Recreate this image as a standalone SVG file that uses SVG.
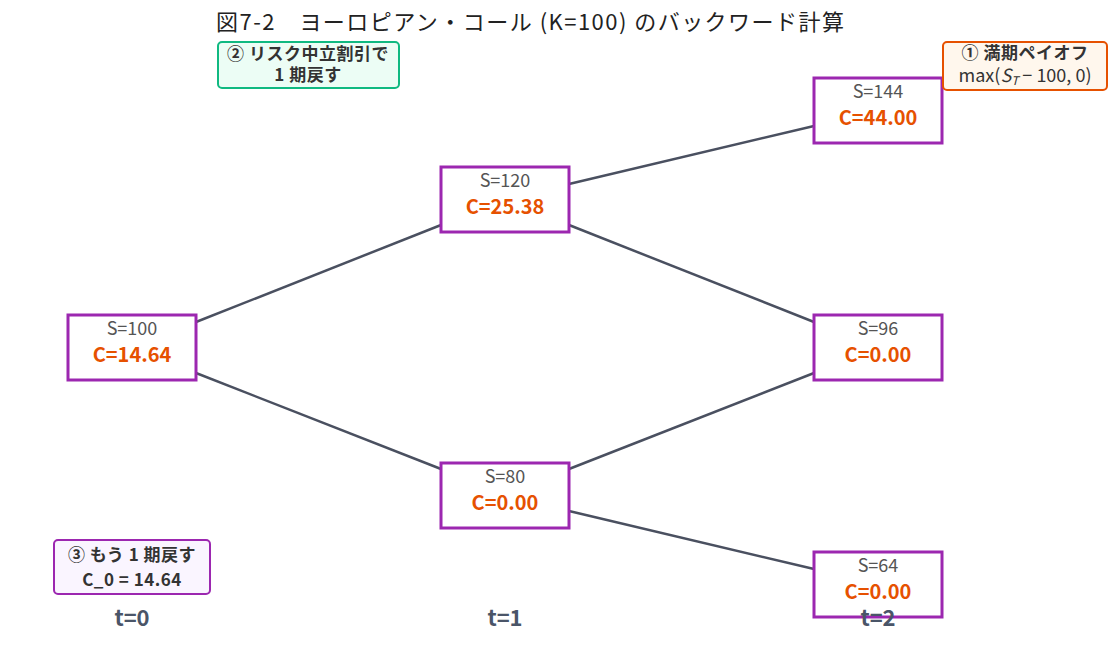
<svg xmlns="http://www.w3.org/2000/svg" width="1116" height="658" viewBox="0 0 1116 658">
<style>
text{font-family:"Noto Sans CJK JP","Noto Sans",sans-serif;text-anchor:middle}
.n{fill:#fff;stroke:#9c27b0;stroke-width:3}
.s{font-size:18px;fill:#555}
.c{font-size:20px;font-weight:bold;fill:#e65100}
.e{stroke:#4a5060;stroke-width:2.5;fill:none}
.t{font-size:22px;font-weight:bold;fill:#4a5568}
.a{font-size:17px;font-weight:bold;fill:#333;letter-spacing:0.5px}
</style>
<rect width="1116" height="658" fill="#fff"/>
<text x="530" y="30" font-size="22" fill="#222" textLength="628" lengthAdjust="spacing">図7-2　ヨーロピアン・コール (K=100) のバックワード計算</text>
<g id="edges">
<line class="e" x1="196" y1="322" x2="441" y2="225"/>
<line class="e" x1="196" y1="373" x2="441" y2="469"/>
<line class="e" x1="569" y1="184" x2="814" y2="126"/>
<line class="e" x1="569" y1="225" x2="814" y2="322"/>
<line class="e" x1="569" y1="469" x2="814" y2="373"/>
<line class="e" x1="569" y1="511" x2="814" y2="569"/>
</g>
<g id="n0"><rect class="n" x="68" y="315" width="128" height="65"/><text class="s" x="132" y="335">S=100</text><text class="c" x="132" y="362">C=14.64</text></g>
<g id="n1u"><rect class="n" x="441" y="167" width="128" height="65"/><text class="s" x="505" y="187">S=120</text><text class="c" x="505" y="214">C=25.38</text></g>
<g id="n1d"><rect class="n" x="441" y="463" width="128" height="65"/><text class="s" x="505" y="483">S=80</text><text class="c" x="505" y="510">C=0.00</text></g>
<g id="n2u"><rect class="n" x="814" y="78" width="128" height="65"/><text class="s" x="878" y="98">S=144</text><text class="c" x="878" y="125">C=44.00</text></g>
<g id="n2m"><rect class="n" x="814" y="315" width="128" height="65"/><text class="s" x="878" y="335">S=96</text><text class="c" x="878" y="362">C=0.00</text></g>
<g id="n2d"><rect class="n" x="814" y="552" width="128" height="65"/><text class="s" x="878" y="572">S=64</text><text class="c" x="878" y="599">C=0.00</text></g>
<g id="ann2"><rect x="218" y="42" width="181" height="46" rx="4" fill="#ecfdf5" stroke="#10b981" stroke-width="2"/><text class="a" x="308" y="60">② リスク中立割引で</text><text class="a" x="308" y="81">1 期戻す</text></g>
<g id="ann1"><rect x="943" y="42" width="164" height="48" rx="4" fill="#fff7ed" stroke="#e65100" stroke-width="2"/><text class="a" x="1025" y="59">① 満期ペイオフ</text><text x="1025" y="82" font-size="18" fill="#333">max(<tspan font-style="italic">S</tspan><tspan font-style="italic" font-size="12" dy="3">T</tspan><tspan dy="-3"> − 100, 0)</tspan></text></g>
<g id="ann3"><rect x="54" y="540" width="156" height="54" rx="4" fill="#faf5ff" stroke="#9c27b0" stroke-width="2"/><text class="a" x="132" y="561" font-size="18">③ もう 1 期戻す</text><text class="a" x="132" y="586" font-size="18">C_0 = 14.64</text></g>
<text class="t" x="132" y="626">t=0</text>
<text class="t" x="505" y="626">t=1</text>
<text class="t" x="878" y="626">t=2</text>
</svg>
